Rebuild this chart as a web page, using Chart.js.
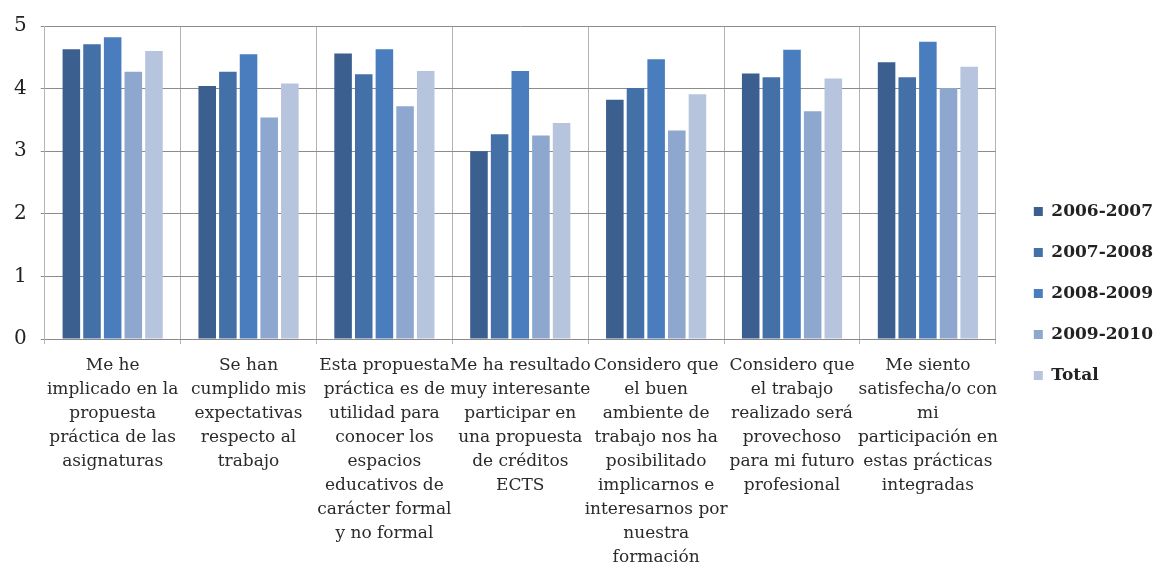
<!DOCTYPE html>
<html lang="es">
<head>
  <meta charset="UTF-8">
  <title>Valoración de las prácticas integradas</title>
  <script src="https://cdn.jsdelivr.net/npm/chart.js"></script>
  <style>
    html, body { margin: 0; padding: 0; background: #fff; }
    #wrap { width: 1157px; height: 565px; }
  </style>
</head>
<body>
  <div id="wrap"><canvas id="chart"></canvas></div>

  <script>
    // categorias (eje X), en varias lineas como en el original
    const categories = [
      ['Me he', 'implicado en la', 'propuesta', 'práctica de las', 'asignaturas'],
      ['Se han', 'cumplido mis', 'expectativas', 'respecto al', 'trabajo'],
      ['Esta propuesta', 'práctica es de', 'utilidad para', 'conocer los', 'espacios', 'educativos de', 'carácter formal', 'y no formal'],
      ['Me ha resultado', 'muy interesante', 'participar en', 'una propuesta', 'de créditos', 'ECTS'],
      ['Considero que', 'el buen', 'ambiente de', 'trabajo nos ha', 'posibilitado', 'implicarnos e', 'interesarnos por', 'nuestra', 'formación'],
      ['Considero que', 'el trabajo', 'realizado será', 'provechoso', 'para mi futuro', 'profesional'],
      ['Me siento', 'satisfecha/o con', 'mi', 'participación en', 'estas prácticas', 'integradas']
    ];

    const seriesNames = ['2006-2007', '2007-2008', '2008-2009', '2009-2010', 'Total'];

    // valores medios
    const curso0607 = [4.63, 4.04, 4.56, 3.00, 3.82, 4.24, 4.42];
    const curso0708 = [4.71, 4.27, 4.23, 3.27, 4.01, 4.18, 4.18];
    const curso0809 = [4.82, 4.55, 4.63, 4.28, 4.47, 4.62, 4.75];
    const curso0910 = [4.27, 3.54, 3.72, 3.25, 3.33, 3.64, 4.01];
    const total     = [4.60, 4.08, 4.28, 3.45, 3.91, 4.16, 4.35];

    const yTicks = [0, 1, 2, 3, 4, 5];

    const colors = ['#3b5f8e', '#4470a8', '#4a7dbd', '#8ea7cf', '#b7c4de'];
    const seriesData = [curso0607, curso0708, curso0809, curso0910, total];

    // mueve la leyenda un poco a la derecha y hacia arriba, como en la imagen
    const legendShift = {
      id: 'legendShift',
      afterLayout(chart) {
        const lg = chart.legend;
        lg.left += 14;
        lg.right += 14;
        lg.top -= 9;
        lg.bottom -= 9;
      }
    };

    new Chart(document.getElementById('chart'), {
      type: 'bar',
      data: {
        labels: categories,
        datasets: seriesNames.map((name, i) => ({
          label: name,
          data: seriesData[i],
          backgroundColor: colors[i],
          borderWidth: 0,
          barPercentage: 0.85,
          categoryPercentage: 0.76
        }))
      },
      options: {
        responsive: true,
        maintainAspectRatio: false,
        animation: false,
        layout: {
          padding: { left: 0, top: 25, right: 8, bottom: -15 }
        },
        plugins: {
          tooltip: { enabled: false },
          legend: {
            position: 'right',
            labels: {
              boxWidth: 9,
              boxHeight: 9,
              padding: 24,
              color: '#222',
              font: { family: 'DejaVu Serif', size: 17, weight: 'bold' }
            }
          }
        },
        scales: {
          x: {
            grid: {
              offset: true,
              color: '#b4b4b4',
              tickLength: 5
            },
            border: { color: '#8a8a8a' },
            ticks: {
              autoSkip: false,
              maxRotation: 0,
              minRotation: 0,
              padding: 10,
              color: '#2a2a2a',
              font: { family: 'DejaVu Serif', size: 17, lineHeight: '24px' }
            }
          },
          y: {
            min: 0,
            max: 5,
            afterBuildTicks(scale) {
              scale.ticks = yTicks.map(v => ({ value: v }));
            },
            grid: {
              color: '#8c8c8c',
              tickLength: 4
            },
            border: { color: '#b4b4b4' },
            ticks: {
              padding: 14,
              color: '#222',
              font: { family: 'DejaVu Serif', size: 20 }
            }
          }
        }
      },
      plugins: [legendShift]
    });
  </script>
</body>
</html>
